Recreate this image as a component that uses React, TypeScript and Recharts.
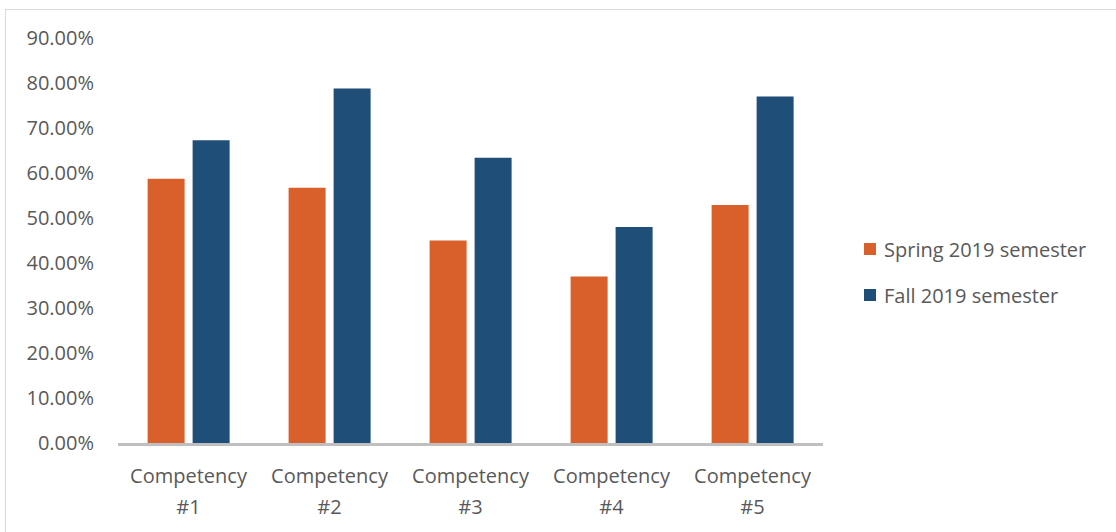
import React from "react";
import { BarChart, Bar, XAxis, YAxis } from "recharts";

const categories = ["Competency #1", "Competency #2", "Competency #3", "Competency #4", "Competency #5"];
const spring2019 = [0.587, 0.567, 0.45, 0.37, 0.529];
const fall2019 = [0.673, 0.788, 0.634, 0.48, 0.77];
const yTicks = [0, 0.1, 0.2, 0.3, 0.4, 0.5, 0.6, 0.7, 0.8, 0.9];
const seriesNames = ["Spring 2019 semester", "Fall 2019 semester"];
const colors = ["#d95f2b", "#1f4e79"];

const data = categories.map((c, i) => ({ name: c, spring: spring2019[i], fall: fall2019[i] }));

const FONT = "'Open Sans', 'Liberation Sans', sans-serif";

const XTick = (props: any) => {
  const { x, y, payload } = props;
  const parts = String(payload.value).split(" ");
  return (
    <g transform={`translate(${x},${y})`}>
      {parts.map((p: string, i: number) => (
        <text key={i} x={0} y={32 + i * 31} textAnchor="middle" fill="#595959" fontSize={20} fontFamily={FONT}>
          {p}
        </text>
      ))}
    </g>
  );
};

export default function App() {
  return (
    <div style={{ position: "absolute", left: 0, top: 0, width: 1116, height: 532, background: "#fff", overflow: "hidden" }}>
      <div style={{ position: "absolute", left: 5, top: 9, width: 1111, height: 523, borderLeft: "1px solid #d9d9d9", borderTop: "1px solid #d9d9d9" }} />
      <div style={{ position: "absolute", left: 0, top: 0 }}>
        <BarChart
          width={1116}
          height={532}
          data={data}
          margin={{ top: 38, right: 293, bottom: 0, left: 0 }}
          barCategoryGap="21%"
          barGap={8}
        >
          <XAxis
            dataKey="name"
            axisLine={{ stroke: "#bfbfbf", strokeWidth: 3, transform: "translate(0,1.5)" }}
            tickLine={false}
            tick={<XTick />}
            interval={0}
            height={89}
          />
          <YAxis
            domain={[0, 0.9]}
            ticks={yTicks}
            width={118}
            axisLine={false}
            tickLine={false}
            tickFormatter={(v: number) => (v * 100).toFixed(2) + "%"}
            tick={{ fill: "#595959", fontSize: 20, fontFamily: FONT, dx: -16 }}
            interval={0}
          />
          <Bar dataKey="spring" name={seriesNames[0]} fill={colors[0]} isAnimationActive={false} />
          <Bar dataKey="fall" name={seriesNames[1]} fill={colors[1]} isAnimationActive={false} />
        </BarChart>
      </div>
      <div style={{ position: "absolute", left: 864, top: 226, fontFamily: FONT, fontSize: 20, color: "#595959" }}>
        {seriesNames.map((n, i) => (
          <div key={n} style={{ display: "flex", alignItems: "center", height: 46, whiteSpace: "nowrap" }}>
            <span style={{ display: "inline-block", width: 12, height: 12, background: colors[i], marginRight: 8 }} />
            <span>{n}</span>
          </div>
        ))}
      </div>
    </div>
  );
}
